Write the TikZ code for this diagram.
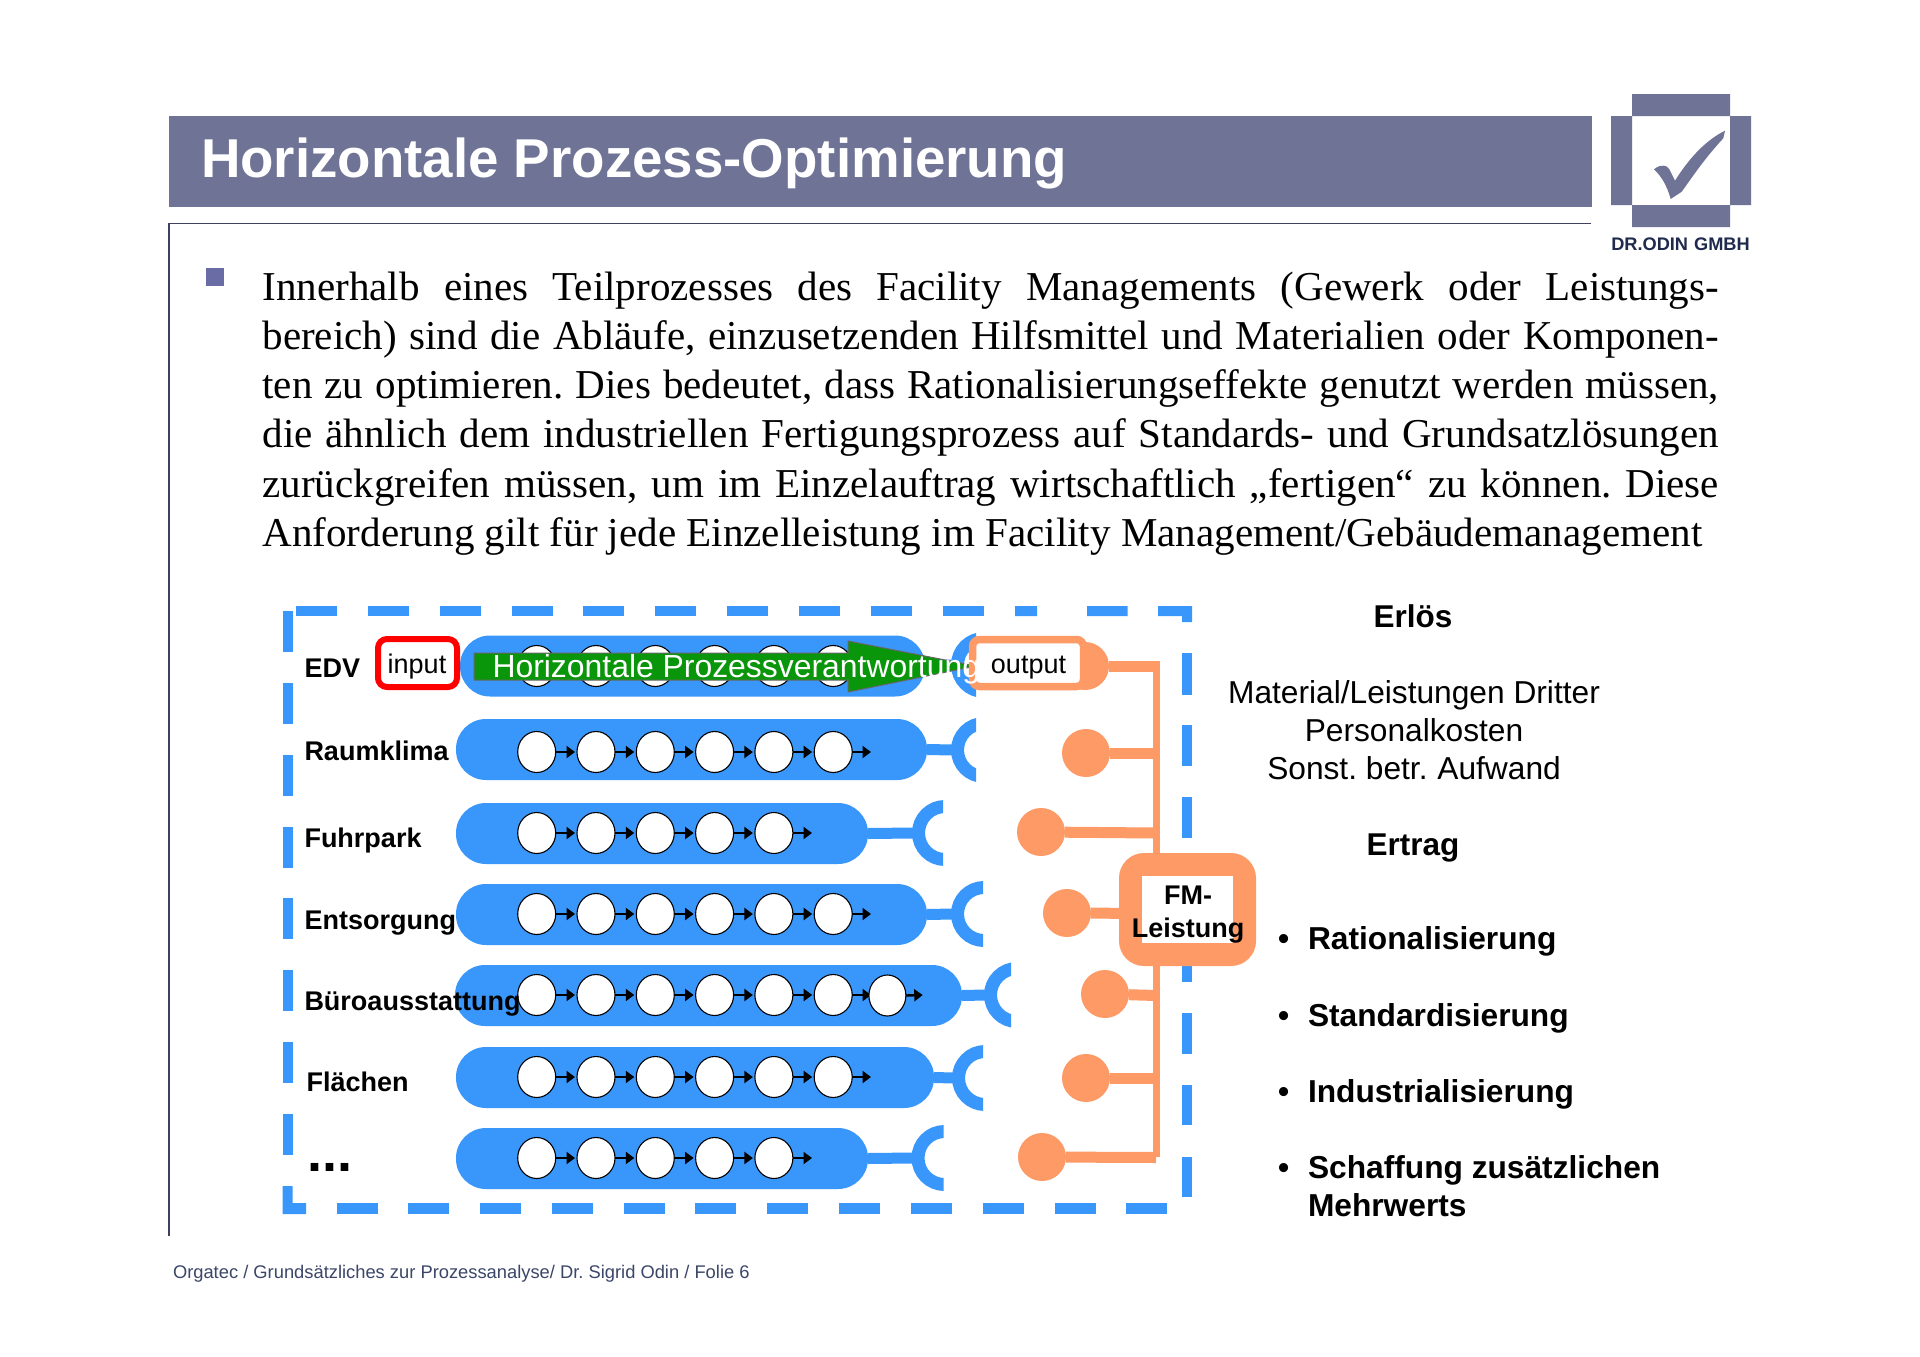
\documentclass[tikz,border=0pt]{standalone}
\usepackage{fontspec}
\setmainfont{Liberation Serif}
\newfontfamily\arial{Liberation Sans}
\usetikzlibrary{arrows.meta,shapes.geometric}
\frenchspacing
\definecolor{slate}{HTML}{6F7395}
\definecolor{rulec}{HTML}{3D4060}
\definecolor{squarec}{HTML}{6A6CA6}
\definecolor{bluec}{HTML}{3997FC}
\definecolor{orangec}{HTML}{FD9A66}
\definecolor{greenc}{HTML}{0A960A}
\definecolor{navy}{HTML}{1F2A4D}
\definecolor{footc}{HTML}{3B4668}
\tikzset{
  x=1pt,y=-1pt,
  txt/.style={inner sep=0pt,outer sep=0pt,anchor=base west},
  ctxt/.style={inner sep=0pt,outer sep=0pt,anchor=base},
  sb/.style={txt,font=\arial\bfseries\fontsize{27}{32}\selectfont},
  boxtext/.style={ctxt,font=\arial\fontsize{27}{32}\selectfont,text=black},
  rc/.style={ctxt,font=\arial\fontsize{31.7}{38}\selectfont},
  rb/.style={txt,font=\arial\bfseries\fontsize{31.7}{38}\selectfont},
  rh/.style={ctxt,font=\arial\bfseries\fontsize{31.5}{38}\selectfont},
  bodyline/.style={txt,font=\fontsize{41.05}{49}\selectfont},
  pill/.style={fill=bluec,rounded corners=30pt,minimum height=61pt,inner sep=0pt,outer sep=0pt,anchor=west},
  proc/.style={ellipse,draw=black,line width=1.1pt,fill=white,minimum width=38pt,minimum height=41pt,inner sep=0pt,outer sep=0pt},
  flow/.style={-{Triangle[length=8.5pt,width=12pt]},line width=2.4pt,black,shorten >=2pt},
  bluebar/.style={bluec,line width=11pt},
  orangebar/.style={orangec,line width=11pt},
  disc/.style={circle,fill=orangec,minimum size=48pt,inner sep=0pt,outer sep=0pt},
  dashc/.style={fill=bluec},
}
\newcommand{\prow}[4]{% name, y, n, end x
  \foreach \i [evaluate=\i as \cx using 536.7+59.3*(\i-1)] in {1,...,#3}{\node[proc] (c#1x\i) at (\cx,#2) {};}
  \pgfmathtruncatemacro{\nm}{#3-1}
  \foreach \i [evaluate=\i as \j using int(\i+1)] in {1,...,\nm}{\draw[flow] (c#1x\i.east) -- (c#1x\j.west);}
  \coordinate (e#1) at (#4,#2);
  \draw[flow,shorten >=0pt] (c#1x#3.east) -- (e#1);
}
\newcommand{\socket}[4]{% name, y, cut, left
  \begin{scope}
    \clip (#4-2,#2-40) rectangle (#3,#2+40);
    \draw[bluec,line width=13pt] (#4+33,#2) circle[radius=26.5];
  \end{scope}
  \coordinate (s#1) at (#4+2,#2);
  \draw[bluebar] (p#1.east) -- (s#1);
}
\begin{document}
\begin{tikzpicture}
\useasboundingbox[fill=white] (0,0) rectangle (1920,1357);
% header
\fill[slate] (168.5,116) rectangle (1592,206.5);
\node[txt,font=\arial\bfseries\fontsize{54.7}{66}\selectfont,text=white] (title) at (201,177) {Horizontale Prozess-Optimierung};
\coordinate (fa) at (1591,223.5);
\coordinate (fb) at (169,223.5);
\coordinate (fc) at (169,1236);
\draw[rulec,line width=1.8pt] (fa) -- (fb) -- (fc);
% logo
\fill[slate] (1632,94) rectangle (1730,116) (1611,116) rectangle (1632,205) (1730,116) rectangle (1751,205) (1632,205) rectangle (1730,227);
\fill[slate] (1654,169.3) .. controls (1658,166) and (1661,165.5) .. (1663.3,165.7) .. controls (1667,166) and (1668,167.5) .. (1669.3,169.3) -- (1675,180.7) .. controls (1683,168) and (1700,143) .. (1725,130.7) -- (1723.3,138.3) .. controls (1705,158) and (1693,176) .. (1681.7,191.7) -- (1670.7,199) .. controls (1667,186) and (1662,177) .. cycle;
\node[ctxt,font=\arial\bfseries\fontsize{18.2}{22}\selectfont,text=navy] (logotext) at (1680.5,250) {DR.ODIN\ \kern1pt GMBH};
% body
\fill[squarec] (205.7,268) rectangle (223.7,286);
\node[bodyline] (l1) at (262.5,300) {\hbox to 1456.5pt{Innerhalb eines Teilprozesses des Facility Managements (Gewerk oder Leistungs-}};
\node[bodyline] (l2) at (262.5,349) {\hbox to 1456.5pt{bereich) sind die Abläufe, einzusetzenden Hilfsmittel und Materialien oder Komponen-}};
\node[bodyline] (l3) at (262.5,398.5) {\hbox to 1456.5pt{ten zu optimieren. Dies bedeutet, dass Rationalisierungseffekte genutzt werden müssen,}};
\node[bodyline] (l4) at (262.5,447.5) {\hbox to 1456.5pt{die ähnlich dem industriellen Fertigungsprozess auf Standards- und Grundsatzlösungen}};
\node[bodyline] (l5) at (262.5,497) {\hbox to 1456.5pt{zurückgreifen müssen, um im Einzelauftrag wirtschaftlich „fertigen“ zu können. Diese}};
\node[bodyline] (l6) at (262.5,546) {Anforderung gilt für jede Einzelleistung im Facility Management/Gebäudemanagement};
% dashed frame
\foreach \a in {296,368,440,511.5,583,655,727,799,871,943}{\fill[dashc] (\a,606) rectangle (\a+41,616);}
\fill[dashc] (1015,606) rectangle (1037,616) (1087,606) rectangle (1127.5,616);
\fill[dashc] (1158,606) rectangle (1192,616) (1182,606) rectangle (1192,622);
\foreach \a/\b in {653/694.5,725/766,797/838,1013/1054,1085/1125,1157/1197}{\fill[dashc] (1182,\a) rectangle (1192,\b);}
\fill[dashc] (1182,960) rectangle (1192,982);
\foreach \a in {611,683,755,827,898,970,1042,1114}{\fill[dashc] (282.6,\a) rectangle (292.6,\a+41);}
\fill[dashc] (282.6,1186) rectangle (292.6,1214) (282.6,1203) rectangle (306,1214);
\foreach \a in {336.5,408,480,552,623.6,695,767,839,911,983,1055,1126}{\fill[dashc] (\a,1203) rectangle (\a+41,1214);}
% pills
\node[pill,minimum width=465pt] (pa) at (460,666) {};
\node[pill,minimum width=471pt] (pb) at (456,749.5) {};
\node[pill,minimum width=412pt] (pc) at (456,833.5) {};
\node[pill,minimum width=471pt] (pd) at (456,914.5) {};
\node[pill,minimum width=507pt] (pe) at (455,995.5) {};
\node[pill,minimum width=478pt] (pf) at (456,1077.5) {};
\node[pill,minimum width=412pt] (pg) at (456,1158.5) {};
% sockets
\socket{a}{665}{976}{951}
\socket{b}{750}{976}{951}
\socket{c}{833}{943}{912}
\socket{d}{914}{983}{951}
\socket{e}{995}{1011}{984}
\socket{f}{1078}{983}{952}
\socket{g}{1158}{943.5}{911.5}
% process chains
\prow{a}{666}{6}{871}
\prow{b}{752}{6}{871}
\prow{c}{833}{5}{812}
\prow{d}{914}{6}{871}
\prow{e}{995}{6}{871}
\prow{f}{1077}{6}{871}
\prow{g}{1158}{5}{812}
\node[proc,minimum width=37pt] (cex7) at (887.4,995.5) {};
\coordinate (ee7) at (922.7,995);
\draw[flow,shorten >=0pt] (cex7.east) -- (ee7);
% row labels
\node[sb] (la) at (304.5,677) {EDV};
\node[sb] (lb) at (304.5,760) {Raumklima};
\node[sb] (lc) at (304.5,847) {Fuhrpark};
\node[sb] (ld) at (304.5,929) {Entsorgung};
\node[sb] (le) at (304.5,1010) {Büroausstattung};
\node[sb] (lf) at (306.5,1091) {Flächen};
\node[txt,font=\arial\bfseries\fontsize{54}{60}\selectfont] (lg) at (307,1171) {...};
% input
\node[draw=red,line width=6pt,fill=white,rounded corners=9pt,minimum width=79pt,minimum height=48pt,inner sep=0pt] (input) at (417.5,663) {};
\node[boxtext] (inputtext) at (417,673) {input};
% green arrow
\coordinate (ga) at (474,653);
\draw[fill=greenc,draw=black!60,line width=1pt] (ga) -- (848,653) -- (848,641) -- (976,666) -- (848,692) -- (848,680) -- (474,680) -- cycle;
% orange network
\coordinate (ta) at (1156.5,661);
\coordinate (tb) at (1156.5,1157);
\draw[orangec,line width=7pt] (ta) -- (tb);
\node[disc] (d1) at (1085,666) {};
\node[disc] (d2) at (1086,753) {};
\node[disc] (d3) at (1041,832) {};
\node[disc] (d4) at (1067,913) {};
\node[disc] (d5) at (1105,994) {};
\node[disc] (d6) at (1086,1078) {};
\node[disc] (d7) at (1042,1157) {};
\foreach \n/\y in {1/666,2/753,3/833,4/913.5,5/995.5,6/1078,7/1157.5}{
  \coordinate (t\n) at (1156,\y);
  \draw[orangebar] (d\n) -- (t\n);
}
\node[draw=orangec,line width=7.5pt,fill=white,rounded corners=7pt,minimum width=111pt,minimum height=47pt,inner sep=0pt] (output) at (1028,663) {};
\node[boxtext] (outputtext) at (1028.5,673) {output};
\node[txt,font=\arial\fontsize{31.9}{38}\selectfont,text=white] (hp) at (492.5,677) {Horizontale Prozessverantwortung};
\node[fill=orangec,rounded corners=25pt,minimum width=137pt,minimum height=113pt,inner sep=0pt,outer sep=0pt] (fm) at (1187.5,909.5) {};
\node[fill=white,minimum width=91pt,minimum height=67pt,inner sep=0pt,outer sep=0pt] (fmi) at (1187.5,909.5) {};
\node[ctxt,font=\arial\bfseries\fontsize{27}{32}\selectfont] (fm1) at (1188,904) {FM-};
\node[ctxt,font=\arial\bfseries\fontsize{27}{32}\selectfont] (fm2) at (1188,937) {Leistung};
% right column
\node[rh] (r1) at (1413,627) {Erlös};
\node[rc] (r2) at (1414,703) {Material/Leistungen Dritter};
\node[rc] (r3) at (1414,741) {Personalkosten};
\node[rc] (r4) at (1414,779) {Sonst. betr.\ \kern1pt Aufwand};
\node[rh] (r5) at (1413,855) {Ertrag};
\node[rb] (b1) at (1278,949) {•};
\node[rb] (t1) at (1308,949) {Rationalisierung};
\node[rb] (b2) at (1278,1026) {•};
\node[rb] (t2) at (1308,1026) {Standardisierung};
\node[rb] (b3) at (1278,1102) {•};
\node[rb] (t3) at (1308,1102) {Industrialisierung};
\node[rb] (b4) at (1278,1178) {•};
\node[rb] (t4) at (1308,1178) {Schaffung zusätzlichen};
\node[rb] (t5) at (1308,1216) {Mehrwerts};
% footer
\node[txt,font=\arial\fontsize{18.33}{22}\selectfont,text=footc] (foot) at (173,1278) {Orgatec / Grundsätzliches zur Prozessanalyse/ Dr. Sigrid Odin / Folie 6};
\end{tikzpicture}
\end{document}
